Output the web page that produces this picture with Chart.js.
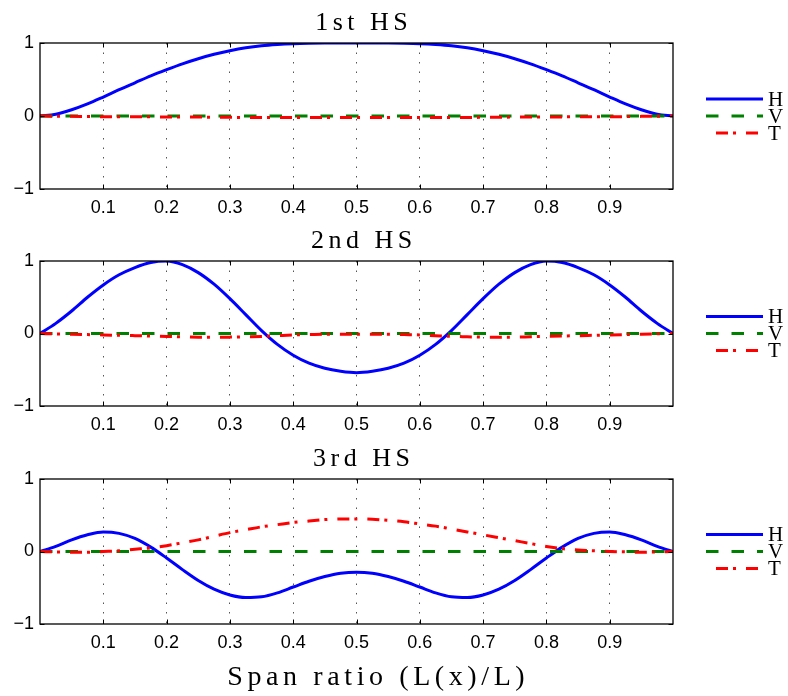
<!DOCTYPE html>
<html><head><meta charset="utf-8">
<script src="https://cdn.jsdelivr.net/npm/chart.js@4/dist/chart.umd.min.js"></script>
<style>
html,body{margin:0;padding:0;background:#fff;}
#wrap{position:relative;width:788px;height:696px;background:#fff;}
canvas{position:absolute;left:0;top:0;}
</style></head><body>
<div id="wrap">
<canvas id="c1" width="788" height="696"></canvas>
<canvas id="c2" width="788" height="696"></canvas>
<canvas id="c3" width="788" height="696"></canvas>
</div>
<script>
// ---- data ----
const spanRatio = [0,0.025,0.05,0.075,0.1,0.125,0.15,0.175,0.2,0.225,0.25,0.275,0.3,0.325,0.35,0.375,0.4,0.425,0.45,0.475,0.5,
                   0.525,0.55,0.575,0.6,0.625,0.65,0.675,0.7,0.725,0.75,0.775,0.8,0.825,0.85,0.875,0.9,0.925,0.95,0.975,1];
const xTickValues = [0.1,0.2,0.3,0.4,0.5,0.6,0.7,0.8,0.9];
const xTickLabels = ['0.1','0.2','0.3','0.4','0.5','0.6','0.7','0.8','0.9'];
const yTickValues = [-1,0,1];
const yTickLabels = ['\u22121','0','1'];
const seriesNames = ['H','V','T'];
const panelTitles = ['1st HS','2nd HS','3rd HS'];
const xAxisLabel = 'Span ratio (L(x)/L)';

const hs1H = [0,0.025,0.085,0.165,0.26,0.36,0.455,0.55,0.635,0.715,0.785,0.845,0.895,0.935,0.963,0.98,0.991,0.997,1.0,1.0,1.0,
              1.0,1.0,0.997,0.991,0.98,0.963,0.935,0.895,0.845,0.785,0.715,0.635,0.55,0.455,0.36,0.26,0.165,0.085,0.025,0];
const hs1V = [0,0,0,0,0,0,0,0,0,0,0,0,0,0,0,0,0,0,0,0,0,0,0,0,0,0,0,0,0,0,0,0,0,0,0,0,0,0,0,0,0];
const hs1T = [0,-0.003,-0.005,-0.008,-0.01,-0.01,-0.01,-0.012,-0.013,-0.015,-0.015,-0.017,-0.018,-0.02,-0.02,-0.02,-0.02,-0.02,-0.02,-0.02,-0.02,
              -0.02,-0.02,-0.02,-0.02,-0.02,-0.02,-0.02,-0.018,-0.017,-0.015,-0.015,-0.013,-0.012,-0.01,-0.01,-0.01,-0.008,-0.005,-0.003,0];

const hs2H = [0,0.14,0.31,0.50,0.67,0.81,0.91,0.98,1.0,0.95,0.84,0.68,0.48,0.26,0.04,-0.15,-0.30,-0.41,-0.48,-0.52,-0.54,
              -0.52,-0.48,-0.41,-0.30,-0.15,0.04,0.26,0.48,0.68,0.84,0.95,1.0,0.98,0.91,0.81,0.67,0.50,0.31,0.14,0];
const hs2V = [0,0,0,0,0,0,0,0,0,0,0,0,0,0,0,0,0,0,0,0,0,0,0,0,0,0,0,0,0,0,0,0,0,0,0,0,0,0,0,0,0];
const hs2T = [0,-0.005,-0.01,-0.015,-0.02,-0.025,-0.03,-0.035,-0.04,-0.045,-0.05,-0.05,-0.05,-0.045,-0.04,-0.03,-0.02,-0.015,-0.01,-0.01,-0.01,
              -0.01,-0.01,-0.015,-0.02,-0.03,-0.04,-0.045,-0.05,-0.05,-0.05,-0.045,-0.04,-0.035,-0.03,-0.025,-0.02,-0.015,-0.01,-0.005,0];

const hs3H = [0,0.07,0.16,0.23,0.27,0.25,0.18,0.06,-0.09,-0.25,-0.40,-0.52,-0.60,-0.635,-0.625,-0.57,-0.49,-0.41,-0.345,-0.30,-0.285,
              -0.30,-0.345,-0.41,-0.49,-0.57,-0.625,-0.635,-0.60,-0.52,-0.40,-0.25,-0.09,0.06,0.18,0.25,0.27,0.23,0.16,0.07,0];
const hs3V = [0,0,0,0,0,0,0,0,0,0,0,0,0,0,0,0,0,0,0,0,0,0,0,0,0,0,0,0,0,0,0,0,0,0,0,0,0,0,0,0,0];
const hs3T = [0,-0.005,-0.01,-0.01,0.0,0.01,0.03,0.05,0.08,0.12,0.16,0.21,0.26,0.30,0.34,0.37,0.40,0.42,0.44,0.45,0.45,
              0.445,0.43,0.41,0.38,0.35,0.31,0.27,0.23,0.19,0.15,0.11,0.07,0.04,0.02,0.01,0.0,-0.005,-0.01,-0.005,0];

const panelSeries = [[hs1H,hs1V,hs1T],[hs2H,hs2V,hs2T],[hs3H,hs3V,hs3T]];

// ---- styles ----
const seriesStyle = [
  {color:'#0000ff', dash:[], order:3},
  {color:'#008000', dash:[12.5,13], order:2},
  {color:'#ff0000', dash:[12,5,3,10], order:1}
];
const panelBox = [{top:43,bottom:189},{top:261,bottom:406},{top:479,bottom:624}];
const W = 788, H = 696, plotLeft = 40, plotRight = 673, xAxisH = 30;
const serif = '"Liberation Serif","DejaVu Serif",serif';
const sans = '"Liberation Sans",Arial,sans-serif';

function drawSpaced(ctx, text, x, y, spacing, align) {
  ctx.save();
  ctx.letterSpacing = spacing + 'px';
  ctx.textAlign = 'left';
  const w = ctx.measureText(text).width - spacing;
  let sx = x;
  if (align === 'center') sx = x - w / 2;
  ctx.fillText(text, sx, y);
  ctx.restore();
}

const decorPlugin = {
  id: 'decor',
  afterDatasetsDraw(chart, args, opts) {
    const ctx = chart.ctx, a = chart.chartArea;
    const xs = chart.scales.x, ys = chart.scales.y;
    ctx.save();
    ctx.strokeStyle = '#000';
    ctx.lineWidth = 1.3;
    ctx.setLineDash([]);
    ctx.strokeRect(a.left, a.top, a.right - a.left, a.bottom - a.top);
    ctx.lineWidth = 1;
    const tl = 4.5;
    ctx.beginPath();
    xTickValues.forEach(v => {
      const px = Math.round(xs.getPixelForValue(v)) + 0.5;
      ctx.moveTo(px, a.bottom); ctx.lineTo(px, a.bottom - tl);
      ctx.moveTo(px, a.top); ctx.lineTo(px, a.top + tl);
    });
    yTickValues.forEach(v => {
      const py = Math.round(ys.getPixelForValue(v)) + 0.5;
      ctx.moveTo(a.left, py); ctx.lineTo(a.left + tl, py);
      ctx.moveTo(a.right, py); ctx.lineTo(a.right - tl, py);
    });
    ctx.stroke();
    ctx.restore();
  },
  afterDraw(chart, args, opts) {
    const ctx = chart.ctx, a = chart.chartArea;
    ctx.save();
    ctx.fillStyle = '#000';
    ctx.textBaseline = 'alphabetic';
    ctx.font = '26px ' + serif;
    drawSpaced(ctx, opts.title, (a.left + a.right) / 2 + 5, a.top - 13, 4.5, 'center');
    // legend
    const cy = (a.top + a.bottom) / 2;
    chart.data.datasets.forEach((ds, i) => {
      const y = cy + (i - 1) * 17;
      ctx.save();
      ctx.strokeStyle = ds.borderColor;
      ctx.lineWidth = ds.borderWidth;
      ctx.setLineDash(ds.borderDash || []);
      ctx.lineDashOffset = i === 2 ? 20 : 0;
      ctx.beginPath();
      ctx.moveTo(706, y); ctx.lineTo(763, y);
      ctx.stroke();
      ctx.restore();
      ctx.font = '21px ' + serif;
      ctx.textBaseline = 'middle';
      ctx.textAlign = 'left';
      ctx.fillText(ds.label, 768, y + 1);
    });
    if (opts.xlabel) {
      ctx.font = '28px ' + serif;
      ctx.textBaseline = 'alphabetic';
      drawSpaced(ctx, opts.xlabel, 376, 685, 4.6, 'center');
    }
    ctx.restore();
  }
};

panelSeries.forEach((series, p) => {
  const box = panelBox[p];
  new Chart(document.getElementById('c' + (p + 1)), {
    type: 'line',
    data: {
      datasets: series.map((vals, i) => ({
        label: seriesNames[i],
        data: spanRatio.map((x, k) => ({x: x, y: vals[k]})),
        borderColor: seriesStyle[i].color,
        borderWidth: 3,
        borderDash: seriesStyle[i].dash,
        order: seriesStyle[i].order,
        pointRadius: 0,
        cubicInterpolationMode: 'monotone',
        fill: false
      }))
    },
    options: {
      responsive: false,
      devicePixelRatio: 1,
      animation: false,
      layout: {padding: {left: 0, right: W - plotRight, top: box.top, bottom: H - box.bottom - xAxisH}},
      plugins: {
        legend: {display: false},
        tooltip: {enabled: false},
        title: {display: false},
        decor: {title: panelTitles[p], xlabel: p === 2 ? xAxisLabel : null}
      },
      scales: {
        x: {
          type: 'linear', min: 0, max: 1,
          afterBuildTicks: s => { s.ticks = xTickValues.map(v => ({value: v})); },
          afterFit: s => { s.height = xAxisH; },
          ticks: {
            callback: (v) => { const i = xTickValues.indexOf(v); return i >= 0 ? xTickLabels[i] : ''; },
            font: {family: sans, size: 18}, color: '#000', padding: 8, maxRotation: 0, autoSkip: false
          },
          grid: {display: true, color: '#555', lineWidth: 1, drawTicks: false},
          border: {display: false, dash: [1.5, 8]}
        },
        y: {
          min: -1, max: 1,
          afterBuildTicks: s => { s.ticks = yTickValues.map(v => ({value: v})); },
          afterFit: s => { s.width = plotLeft; },
          ticks: {
            callback: (v) => { const i = yTickValues.indexOf(v); return i >= 0 ? yTickLabels[i] : ''; },
            font: {family: sans, size: 18}, color: '#000', padding: 6
          },
          grid: {display: false, drawTicks: false},
          border: {display: false}
        }
      }
    },
    plugins: [decorPlugin]
  });
});
</script>
</body></html>
